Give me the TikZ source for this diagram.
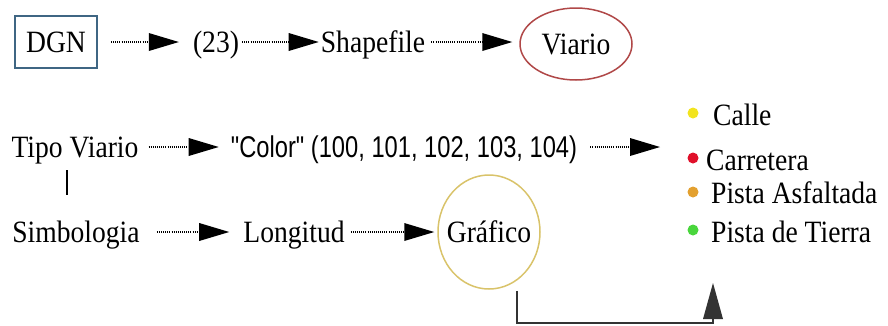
\documentclass[tikz,border=0pt]{standalone}
\usepackage{fontspec}
\usetikzlibrary{arrows.meta,shapes.geometric,calc}
\setmainfont{Liberation Serif}
\newfontfamily\sfx{Liberation Sans}
\newcommand{\nrw}[1]{\scalebox{0.89}[1]{#1}}
\newcommand{\snrw}[1]{\scalebox{0.79}[1]{#1}}
\definecolor{boxblue}{HTML}{3F6683}
\definecolor{viared}{HTML}{B04848}
\definecolor{grafy}{HTML}{D9C36A}
\definecolor{bylw}{HTML}{F2E41E}
\definecolor{bred}{HTML}{E0102A}
\definecolor{borg}{HTML}{E3A02F}
\definecolor{bgrn}{HTML}{49D63C}
\tikzset{
  fhead/.tip={Triangle[length=30pt, width=18pt, line width=0pt]},
  uhead/.tip={Triangle[length=36pt, width=20pt, line width=0pt]}
}
\begin{document}
\begin{tikzpicture}[x=1pt,y=-1pt,
  lbl/.style={inner sep=0pt, font=\rmfamily\fontsize{31}{33}\selectfont, text height=20pt, text depth=0pt},
  slbl/.style={inner sep=0pt, font=\sfx\fontsize{30}{32}\selectfont, text height=21.5pt, text depth=0pt},
  flow/.style={line width=1.6pt, dash pattern=on 1pt off 1.1pt, -fhead},
  bul/.style={circle, inner sep=0pt, minimum size=11pt},
  link/.style={line width=1.5pt, draw=black!80}
]
\useasboundingbox (0,0) rectangle (888,325);

% row 1
\node[draw=boxblue, line width=2pt, lbl, minimum width=82pt, minimum height=52pt] (dgn) at (56,42) {\nrw{DGN}};
\node[lbl] (n23) at (216,42) {\nrw{(23)}};
\node[lbl] (shp) at (373,42) {\nrw{Shapefile}};
\node[draw=viared, line width=1.5pt, ellipse, lbl, minimum width=112pt, minimum height=72pt] (via) at (576,44) {\nrw{Viario}};

% row 2
\node[lbl] (tipo) at (75,147) {\nrw{Tipo Viario}};
\node[slbl] (col) at (404,147) {\snrw{"Color" (100, 101, 102, 103, 104)}};
\coordinate (lg) at (660,147);

% row 3
\node[lbl] (simb) at (76,232) {\nrw{Simbologia}};
\node[lbl] (lon) at (294,232) {\nrw{Longitud}};
\node[draw=grafy, line width=1.5pt, ellipse, lbl, inner xsep=-14pt, minimum width=102pt, minimum height=114pt] (graf) at (489,232) {\nrw{Gráfico}};

% legend
\node[bul, fill=bylw] (b1) at (693,113) {};
\node[lbl, anchor=west] (calle) at (713,115) {\nrw{Calle}};
\node[bul, fill=bred] (b2) at (693,158) {};
\node[lbl, anchor=west] (carr) at (706,160) {\nrw{Carretera}};
\node[bul, fill=borg] (b3) at (693,192) {};
\node[lbl, anchor=west] (pasf) at (711,193) {\nrw{Pista Asfaltada}};
\node[bul, fill=bgrn] (b4) at (693,230) {};
\node[lbl, anchor=west] (ptie) at (711,232) {\nrw{Pista de Tierra}};

% flows
\draw[flow, shorten <=13pt, shorten >=14pt] (dgn.east) -- (dgn.east -| n23.west);
\draw[flow, shorten <=3pt, shorten >=2pt] (n23.east) -- (shp.west);
\draw[flow, shorten <=6pt, shorten >=7pt] (shp.east) -- (shp.east -| via.west);
\draw[flow, shorten <=10pt, shorten >=12pt] (tipo.east) -- (col.west);
\draw[flow, shorten <=13pt] (col.east) -- (lg);
\draw[flow, shorten <=17pt, shorten >=14pt] (simb.east) -- (lon.west);
\draw[flow, shorten <=6pt, shorten >=3pt] (lon.east) -- (graf.west);

% tipo - simbologia
\draw[line width=1.3pt] ([xshift=-8pt,yshift=-13pt]tipo.south) -- ([xshift=-9pt,yshift=27pt]simb.north);

% grafico to legend
\coordinate (gs) at ([xshift=28pt,yshift=-1pt]graf.south);
\coordinate (lt) at (713,283);
\draw[link, -uhead] (gs) -- ++(0,32) -| (lt);
\end{tikzpicture}
\end{document}
